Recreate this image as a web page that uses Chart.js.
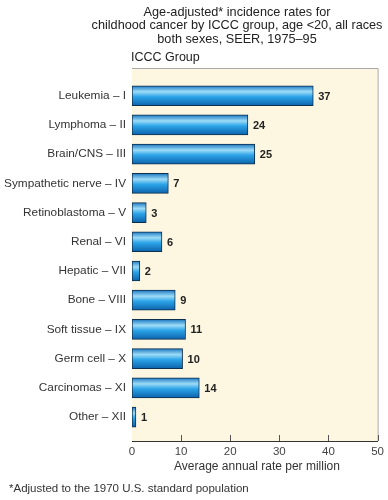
<!DOCTYPE html>
<html>
<head>
<meta charset="utf-8">
<script src="https://cdn.jsdelivr.net/npm/chart.js@4/dist/chart.umd.min.js"></script>
<style>
html,body{margin:0;padding:0;background:#fff;}
#wrap{width:388px;height:500px;position:relative;}
</style>
</head>
<body>
<div id="wrap"><canvas id="c" width="388" height="500"></canvas></div>
<script>
const categories = ["Leukemia – I","Lymphoma – II","Brain/CNS – III","Sympathetic nerve – IV","Retinoblastoma – V","Renal – VI","Hepatic – VII","Bone – VIII","Soft tissue – IX","Germ cell – X","Carcinomas – XI","Other – XII"];
const rates = [36.9, 23.6, 25.0, 7.4, 2.9, 6.1, 1.6, 8.8, 10.9, 10.3, 13.7, 0.8];
const valueLabels = ["37","24","25","7","3","6","2","9","11","10","14","1"];
const xTicks = [0, 10, 20, 30, 40, 50];
const titleLines = ["Age-adjusted* incidence rates for","childhood cancer by ICCC group, age <20, all races","both sexes, SEER, 1975–95"];
const axisGroupTitle = "ICCC Group";
const xAxisTitle = "Average annual rate per million";
const footnote = "*Adjusted to the 1970 U.S. standard population";

const FONT = "'Liberation Sans', Arial, Helvetica, sans-serif";

const decor = {
  id: 'decor',
  beforeDatasetsDraw(chart) {
    const {ctx, chartArea: a} = chart;
    ctx.save();
    ctx.fillStyle = '#fdf6e1';
    ctx.fillRect(a.left, a.top, a.right - a.left, a.bottom - a.top);
    ctx.strokeStyle = '#a8a8a8';
    ctx.lineWidth = 1;
    ctx.beginPath();
    ctx.moveTo(a.left, a.top + 0.5); ctx.lineTo(a.right + 0.5, a.top + 0.5);
    ctx.lineTo(a.right + 0.5, a.bottom);
    ctx.stroke();
    const xs = chart.scales.x;
    ctx.strokeStyle = '#555';
    ctx.beginPath();
    xTicks.forEach(v => {
      if (v === 0) return;
      const px = Math.round(xs.getPixelForValue(v)) + 0.5;
      ctx.moveTo(px, a.bottom); ctx.lineTo(px, a.bottom - 6);
    });
    ctx.stroke();
    ctx.restore();
  },
  afterDraw(chart) {
    const {ctx, chartArea: a} = chart;
    ctx.save();
    ctx.fillStyle = '#222';
    ctx.textAlign = 'center';
    ctx.textBaseline = 'middle';
    ctx.font = `12.7px ${FONT}`;
    const tops = [12, 25.5, 39];
    titleLines.forEach((t, i) => ctx.fillText(t, 237, tops[i]));
    ctx.textAlign = 'left';
    ctx.font = `12.5px ${FONT}`;
    ctx.fillText(axisGroupTitle, 131, 58);
    ctx.fillStyle = '#333';
    ctx.textAlign = 'center';
    ctx.font = `12px ${FONT}`;
    ctx.fillText(xAxisTitle, 257, 467);
    ctx.textAlign = 'left';
    ctx.font = `11.5px ${FONT}`;
    ctx.fillText(footnote, 9, 489);
    const meta = chart.getDatasetMeta(0);
    ctx.font = `bold 11px ${FONT}`;
    ctx.fillStyle = '#222';
    meta.data.forEach((bar, i) => {
      ctx.fillText(valueLabels[i], bar.x + 5, bar.y + 1);
    });
    ctx.restore();
  }
};

new Chart(document.getElementById('c'), {
  type: 'bar',
  data: {
    datasets: [{
      data: rates.map((v, i) => ({x: v, y: i})),
      barThickness: 20,
      borderWidth: 1,
      borderSkipped: false,
      borderColor: '#0d2f4e',
      backgroundColor(ctx) {
        const chart = ctx.chart;
        const ys = chart.scales.y;
        if (!ys || !chart.chartArea) return '#2a9de0';
        const cy = ys.getPixelForValue(ctx.dataIndex);
        const g = chart.ctx.createLinearGradient(0, cy - 10, 0, cy + 10);
        g.addColorStop(0, '#1c78c2');
        g.addColorStop(0.3, '#9ddcf7');
        g.addColorStop(0.55, '#2ca4e8');
        g.addColorStop(1, '#0c62ab');
        return g;
      }
    }]
  },
  options: {
    indexAxis: 'y',
    responsive: false,
    animation: false,
    devicePixelRatio: 1,
    layout: {padding: {top: 68, right: 10, left: 0, bottom: 0}},
    plugins: {legend: {display: false}, tooltip: {enabled: false}, title: {display: false}},
    scales: {
      x: {
        type: 'linear',
        min: 0, max: 50,
        afterBuildTicks(s) { s.ticks = xTicks.map(v => ({value: v})); },
        afterFit(s) { s.height = 59; },
        grid: {display: false, drawTicks: false},
        border: {display: true, color: '#333', width: 1},
        ticks: {padding: 4, color: '#444', font: {family: FONT, size: 11.5}}
      },
      y: {
        type: 'linear',
        offset: false,
        grace: 0,
        bounds: 'data',
        reverse: true,
        min: -0.949, max: 11.82,
        afterBuildTicks(s) { s.ticks = categories.map((c, i) => ({value: i})); },
        afterFit(s) { s.width = 132; },
        grid: {display: false, drawTicks: false, offset: false},
        border: {display: true, color: '#222', width: 1},
        ticks: {
          autoSkip: false, padding: 6, color: '#333',
          font: {family: FONT, size: 11.8},
          callback: (v) => categories[v]
        }
      }
    }
  },
  plugins: [decor]
});
</script>
</body>
</html>
